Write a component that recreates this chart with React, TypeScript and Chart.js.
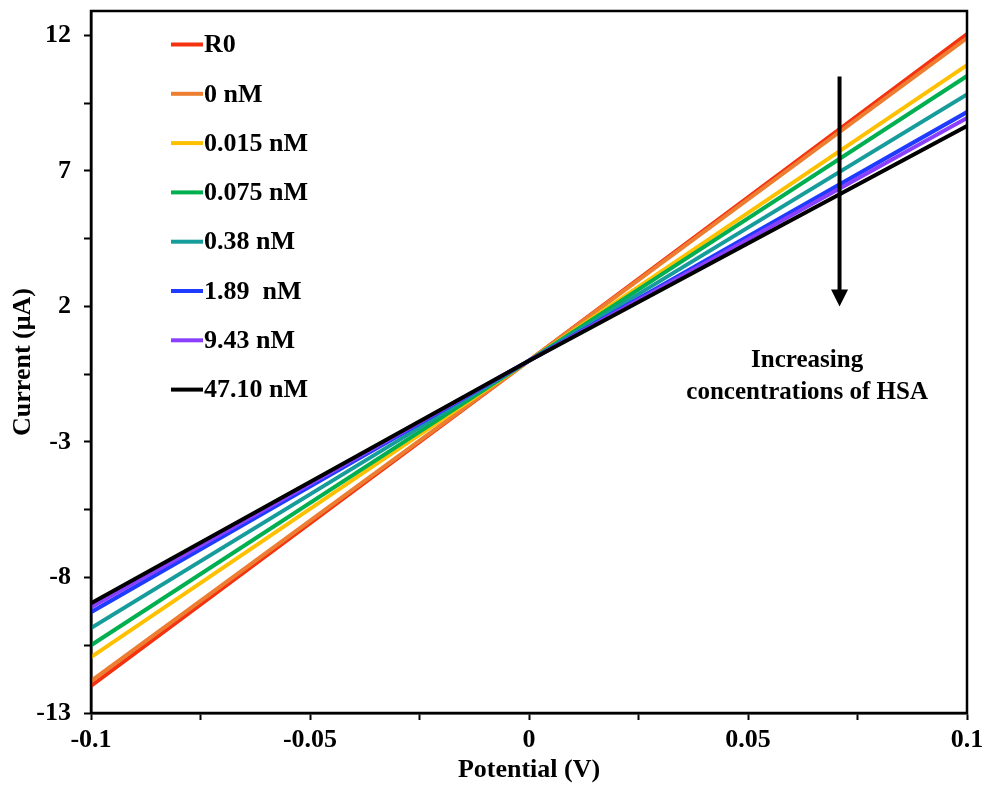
import React, { useEffect, useRef } from "react";
import { Chart, registerables } from "chart.js";

Chart.register(...registerables);

// ---- data ----
const potentials = [-0.1, 0, 0.1];
const seriesLabels = ["R0", "0 nM", "0.015 nM", "0.075 nM", "0.38 nM", "1.89  nM", "9.43 nM", "47.10 nM"];
const seriesColors = ["#F5320F", "#ED7D31", "#FFC000", "#00B050", "#179C9C", "#1F3BFF", "#8A3FFF", "#000000"];
const currentR0 = [-12.0, 0, 12.05];
const current0nM = [-11.82, 0, 11.9];
const current0015nM = [-10.94, 0, 10.9];
const current0075nM = [-10.5, 0, 10.5];
const current038nM = [-9.87, 0, 9.82];
const current189nM = [-9.28, 0, 9.17];
const current943nM = [-9.1, 0, 8.95];
const current4710nM = [-8.95, 0, 8.66];
const seriesValues = [currentR0, current0nM, current0015nM, current0075nM, current038nM, current189nM, current943nM, current4710nM];

const yTicks = [-13, -10.5, -8, -5.5, -3, -0.5, 2, 4.5, 7, 9.5, 12];
const yTickLabels = ["-13", "", "-8", "", "-3", "", "2", "", "7", "", "12"];
const xTicks = [-0.1, -0.075, -0.05, -0.025, 0, 0.025, 0.05, 0.075, 0.1];
const xTickLabels = ["-0.1", "", "-0.05", "", "0", "", "0.05", "", "0.1"];

const annotationLines = ["Increasing", "concentrations of HSA"];
const arrowX = 0.0709;
const arrowTop = 10.48;
const arrowTip = 2.0;
const annotationX = 0.0635;
const annotationY = [0.0, -1.18];

const FONT = "'Liberation Serif', 'Times New Roman', serif";

const overlayPlugin = {
  id: "overlay",
  afterDraw(chart: any) {
    const { ctx, chartArea: a, scales } = chart;
    const xs = scales.x;
    const ys = scales.y;
    ctx.save();
    // frame
    ctx.strokeStyle = "#000";
    ctx.lineWidth = 2.5;
    ctx.strokeRect(a.left, a.top, a.right - a.left, a.bottom - a.top);

    // legend
    ctx.font = `bold 26px ${FONT}`;
    ctx.textBaseline = "middle";
    ctx.textAlign = "left";
    chart.data.datasets.forEach((ds: any, i: number) => {
      const cy = a.top + 33.5 + i * 49.3;
      ctx.strokeStyle = ds.borderColor;
      ctx.lineWidth = 4;
      ctx.beginPath();
      ctx.moveTo(a.left + 80, cy);
      ctx.lineTo(a.left + 112, cy);
      ctx.stroke();
      ctx.fillStyle = "#000";
      ctx.fillText(ds.label, a.left + 113, cy + 1);
    });

    // arrow
    const ax = xs.getPixelForValue(arrowX);
    const top = ys.getPixelForValue(arrowTop);
    const tip = ys.getPixelForValue(arrowTip);
    ctx.strokeStyle = "#000";
    ctx.fillStyle = "#000";
    ctx.lineWidth = 4;
    ctx.beginPath();
    ctx.moveTo(ax, top);
    ctx.lineTo(ax, tip - 14);
    ctx.stroke();
    ctx.beginPath();
    ctx.moveTo(ax - 8.5, tip - 17);
    ctx.lineTo(ax + 8.5, tip - 17);
    ctx.lineTo(ax, tip);
    ctx.closePath();
    ctx.fill();

    // annotation text
    ctx.font = `bold 25px ${FONT}`;
    ctx.textAlign = "center";
    ctx.textBaseline = "middle";
    const tx = xs.getPixelForValue(annotationX);
    annotationLines.forEach((t, i) => {
      ctx.fillText(t, tx, ys.getPixelForValue(annotationY[i]));
    });
    ctx.restore();
  },
};

export default function App() {
  const ref = useRef<HTMLCanvasElement | null>(null);
  useEffect(() => {
    if (!ref.current) return;
    const n = seriesLabels.length;
    const chart = new Chart(ref.current, {
      type: "line",
      data: {
        datasets: seriesLabels.map((label, i) => ({
          label,
          data: potentials.map((p, j) => ({ x: p, y: seriesValues[i][j] })),
          borderColor: seriesColors[i],
          backgroundColor: seriesColors[i],
          borderWidth: 4,
          pointRadius: 0,
          tension: 0,
          fill: false,
          order: n - i,
        })),
      },
      options: {
        animation: false,
        responsive: true,
        maintainAspectRatio: false,
        layout: { padding: { top: 11, right: 18, left: 0, bottom: 0 } },
        plugins: { legend: { display: false }, tooltip: { enabled: false } },
        scales: {
          x: {
            type: "linear",
            min: -0.1,
            max: 0.1,
            afterBuildTicks: (s: any) => {
              s.ticks = xTicks.map((v) => ({ value: v }));
            },
            afterFit: (s: any) => {
              s.height = 74;
              s.paddingLeft = 0;
              s.paddingRight = 0;
            },
            ticks: {
              autoSkip: false,
              maxRotation: 0,
              padding: 5,
              color: "#000",
              font: { family: FONT, size: 26, weight: "bold" },
              callback: (_v: any, i: number) => xTickLabels[i],
            },
            grid: { drawOnChartArea: false, drawTicks: true, tickLength: 7, tickColor: "#000", tickWidth: 2 },
            border: { display: true, color: "#000", width: 2.5 },
            title: {
              display: true,
              text: "Potential (V)",
              color: "#000",
              font: { family: FONT, size: 26, weight: "bold" },
              padding: { top: 0, bottom: 1 },
            },
          },
          y: {
            type: "linear",
            min: -13,
            max: 12.9,
            afterBuildTicks: (s: any) => {
              s.ticks = yTicks.map((v) => ({ value: v }));
            },
            afterFit: (s: any) => {
              s.width = 91;
              s.paddingTop = 0;
              s.paddingBottom = 0;
            },
            ticks: {
              autoSkip: false,
              padding: 13,
              color: "#000",
              font: { family: FONT, size: 26, weight: "bold" },
              callback: (_v: any, i: number) => yTickLabels[i],
            },
            grid: { drawOnChartArea: false, drawTicks: true, tickLength: 7, tickColor: "#000", tickWidth: 2 },
            border: { display: true, color: "#000", width: 2.5 },
            title: {
              display: true,
              text: "Current (μA)",
              color: "#000",
              font: { family: FONT, size: 26, weight: "bold" },
              padding: { top: 8, bottom: 0 },
            },
          },
        },
      },
      plugins: [overlayPlugin],
    });
    return () => chart.destroy();
  }, []);

  return (
    <div style={{ position: "absolute", left: 0, top: 0, width: 985, height: 787, background: "#fff" }}>
      <canvas ref={ref} style={{ display: "block" }} />
    </div>
  );
}
